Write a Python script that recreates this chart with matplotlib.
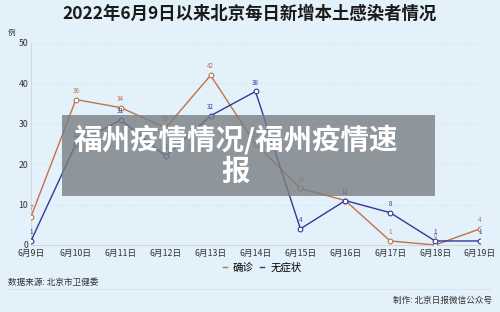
import matplotlib
matplotlib.use("Agg")
import matplotlib.pyplot as plt
from matplotlib.patches import Rectangle
from matplotlib.lines import Line2D

plt.rcParams['font.family'] = ['Noto Sans CJK SC', 'DejaVu Sans']

dates = ["6月9日", "6月10日", "6月11日", "6月12日", "6月13日", "6月14日",
         "6月15日", "6月16日", "6月17日", "6月18日", "6月19日"]
confirmed = [7, 36, 34, 29, 42, 25, 14, 11, 1, 0, 4]
asymptomatic = [1, 25, 31, 22, 32, 38, 4, 11, 8, 1, 1]
yticks = [0, 10, 20, 30, 40, 50]

title = "2022年6月9日以来北京每日新增本土感染者情况"
overlay = "福州疫情情况/福州疫情速\n报"

bg = "#E3F1FA"
c_conf = "#C4714A"
c_asym = "#2E3A9A"

fig = plt.figure(figsize=(5, 3.12), dpi=100, facecolor=bg)
ax = fig.add_axes([31/500, 67/312, 449/500, 202/312])
ax.set_facecolor(bg)

x = list(range(len(dates)))
ax.plot(x, confirmed, color=c_conf, lw=1.0, marker='o', ms=3.4,
        mfc='white', mec=c_conf, mew=0.8, zorder=3)
ax.plot(x, asymptomatic, color=c_asym, lw=1.0, marker='o', ms=3.4,
        mfc='white', mec=c_asym, mew=0.8, zorder=3)
for xi, v in zip(x, confirmed):
    ax.annotate(str(v), (xi, v), xytext=(0, 3.5), textcoords='offset points',
                ha='center', va='bottom', fontsize=4.5, color=c_conf)
for xi, v in zip(x, asymptomatic):
    ax.annotate(str(v), (xi, v), xytext=(0, 3.5), textcoords='offset points',
                ha='center', va='bottom', fontsize=4.5, color=c_asym)

ax.set_xlim(0, 10)
ax.set_ylim(0, 50)
ax.set_xticks(x)
ax.set_xticklabels(dates, fontsize=6.3, color='#333333')
ax.set_yticks(yticks)
ax.set_yticklabels([str(t) for t in yticks], fontsize=6.3, color='#333333')
ax.tick_params(axis='both', length=0, pad=2)
ax.tick_params(axis='x', pad=2.5)
for s in ['top', 'right']:
    ax.spines[s].set_visible(False)
for s in ['left', 'bottom']:
    ax.spines[s].set_color('#C8D4DC')
    ax.spines[s].set_linewidth(0.6)
ax.yaxis.grid(True, color='#D2E0EA', lw=0.5, ls=(0, (4, 3)))
ax.set_axisbelow(True)
for lab in ax.get_xticklabels():
    lab.set_clip_on(False)

fig.text(250/500, 1 - 14/312, title, ha='center', va='center',
         fontsize=12.5, fontweight='bold', color='#1A1A1A')
fig.text(12/500, 1 - 33/312, "例", ha='center', va='center',
         fontsize=5.5, color='#333333')

handles = [Line2D([0], [0], color=c_conf, lw=1), Line2D([0], [0], color=c_asym, lw=1)]
fig.legend(handles, ["确诊", "无症状"], loc='center', bbox_to_anchor=(262/500, 1 - 268/312),
           ncol=2, frameon=False, fontsize=7.5, handlelength=0.4, handletextpad=0.6,
           columnspacing=0.6)

fig.text(8/500, 1 - 283/312, "数据来源: 北京市卫健委", ha='left', va='center',
         fontsize=6.2, color='#333333')
fig.add_artist(Line2D([8/500, 492/500], [1 - 289/312, 1 - 289/312],
                      color='#D4E2EC', lw=0.6))
fig.text(492/500, 1 - 300/312, "制作: 北京日报微信公众号", ha='right', va='center',
         fontsize=6.2, color='#333333')

fig.add_artist(Rectangle((62/500, 1 - 196/312), (435 - 62)/500, (196 - 115)/312,
                         transform=fig.transFigure, facecolor='#797E83', alpha=0.8,
                         edgecolor='none', zorder=10))
fig.text(236/500, 1 - 155/312, overlay, ha='center', va='center', fontsize=20.5,
         fontweight='bold', color='white', linespacing=1.15, zorder=11)

fig.savefig("out.png", dpi=100, facecolor=bg)
